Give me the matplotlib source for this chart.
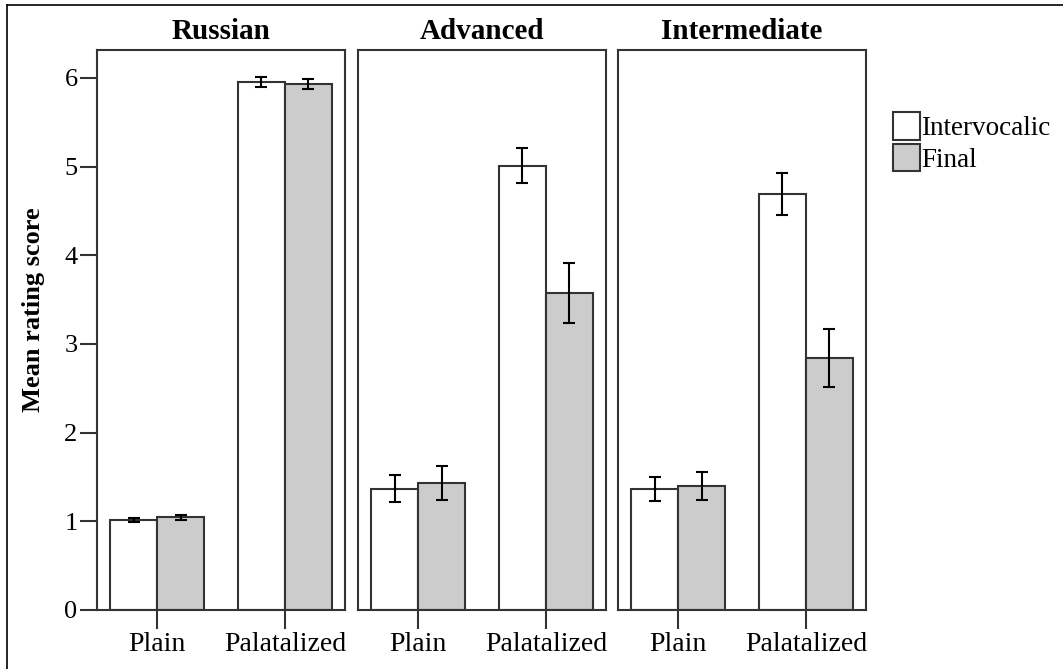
import matplotlib
matplotlib.use("Agg")
import matplotlib.pyplot as plt
from matplotlib.lines import Line2D
from matplotlib.patches import Patch
import numpy as np

groups = ["Russian", "Advanced", "Intermediate"]
categories = ["Plain", "Palatalized"]

interv_mean = {"Russian": [1.015, 5.955], "Advanced": [1.37, 5.01], "Intermediate": [1.36, 4.69]}
final_mean = {"Russian": [1.045, 5.93], "Advanced": [1.43, 3.575], "Intermediate": [1.40, 2.84]}
interv_err = {"Russian": [0.02, 0.055], "Advanced": [0.15, 0.20], "Intermediate": [0.135, 0.235]}
final_err = {"Russian": [0.03, 0.055], "Advanced": [0.19, 0.335], "Intermediate": [0.155, 0.33]}

yticks = [0, 1, 2, 3, 4, 5, 6]

plt.rcParams["font.family"] = ["Liberation Serif", "DejaVu Serif"]
plt.rcParams["font.size"] = 18

W, H = 1063, 669
fig = plt.figure(figsize=(W / 100, H / 100), dpi=100)

edge = "#333333"
bar_w = 0.367
x = np.arange(len(categories))
lefts = [97, 358, 618]

for i, g in enumerate(groups):
    ax = fig.add_axes([lefts[i] / W, (H - 610) / H, 248 / W, 560 / H])
    ax.bar(x - bar_w / 2, interv_mean[g], bar_w, color="white", edgecolor=edge, linewidth=1.5)
    ax.bar(x + bar_w / 2, final_mean[g], bar_w, color="#cccccc", edgecolor=edge, linewidth=1.5)
    ax.errorbar(x - bar_w / 2, interv_mean[g], yerr=interv_err[g], fmt="none",
                ecolor="black", elinewidth=1.5, capsize=4.5, capthick=1.5)
    ax.errorbar(x + bar_w / 2, final_mean[g], yerr=final_err[g], fmt="none",
                ecolor="black", elinewidth=1.5, capsize=4.5, capthick=1.5)
    ax.set_xlim(-0.47, 1.47)
    ax.set_ylim(0, 6.315)
    ax.set_xticks(x)
    ax.set_xticklabels(categories, fontsize=20)
    ax.tick_params(axis="x", length=14, width=1.5, color=edge, pad=2)
    ax.set_yticks(yticks)
    if i == 0:
        ax.tick_params(axis="y", length=12, width=1.5, color=edge, pad=2, labelsize=19)
        ax.set_ylabel("Mean rating score", fontsize=19, fontweight="bold")
        ax.yaxis.set_label_coords(-0.21, 0.536)
    else:
        ax.tick_params(axis="y", length=0, labelleft=False)
    for s in ax.spines.values():
        s.set_color(edge)
        s.set_linewidth(1.5)
    ax.set_title(g, fontsize=21, fontweight="bold", pad=8)

handles = [Patch(facecolor="white", edgecolor=edge, linewidth=1.5),
           Patch(facecolor="#cccccc", edgecolor=edge, linewidth=1.5)]
fig.legend(handles, ["Intervocalic", "Final"], loc="upper left",
           bbox_to_anchor=(882 / W, 1 - 101 / H), frameon=False, fontsize=19.5,
           handlelength=1.0, handleheight=1.2, handletextpad=0.05,
           labelspacing=0.1, borderaxespad=0)

# outer frame (only top and left edges are visible)
fig.add_artist(Line2D([7 / W, 7 / W], [0, 1 - 5 / H], color="black", lw=1.2))
fig.add_artist(Line2D([7 / W, 1], [1 - 5 / H, 1 - 5 / H], color="black", lw=1.2))

fig.savefig("out.png", dpi=100)
